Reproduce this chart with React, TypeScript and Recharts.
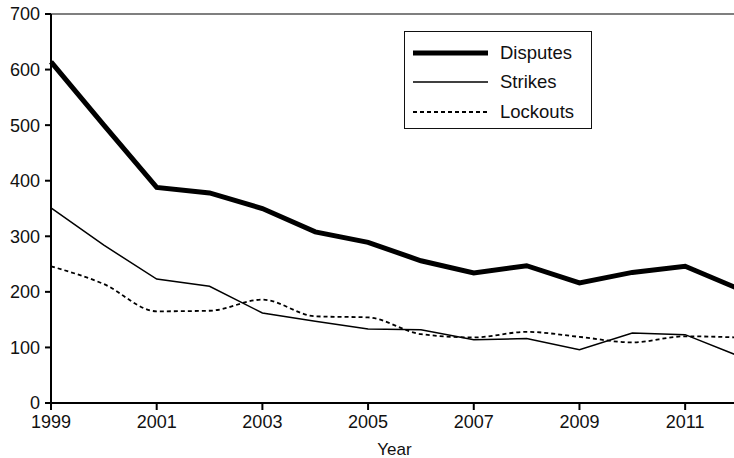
import { Line, LineChart, ReferenceLine, XAxis, YAxis } from "recharts";

const years = [1999, 2000, 2001, 2002, 2003, 2004, 2005, 2006, 2007, 2008, 2009, 2010, 2011, 2012];
const disputes = [614, 500, 388, 378, 350, 308, 289, 256, 234, 247, 216, 235, 246, 206];
const strikes = [351, 284, 223, 210, 162, 147, 133, 132, 114, 116, 96, 126, 123, 85];
const lockouts = [246, 214, 165, 166, 186, 156, 154, 124, 118, 128, 119, 109, 120, 118];

const xTicks = [1999, 2001, 2003, 2005, 2007, 2009, 2011];
const yTicks = [0, 100, 200, 300, 400, 500, 600, 700];

const FONT = "'Liberation Sans', Arial, sans-serif";

const data = years.map((year, i) => ({
  year,
  disputes: disputes[i],
  strikes: strikes[i],
  lockouts: lockouts[i],
}));

const legendItems = [
  { name: "Disputes", width: 5, dash: undefined },
  { name: "Strikes", width: 1.5, dash: undefined },
  { name: "Lockouts", width: 1.8, dash: "4 3" },
];

// legend drawn as an overlay so it doesn't push the plot area down
function LegendBox() {
  return (
    <div
      style={{
        position: "absolute",
        left: 404,
        top: 31,
        border: "1.5px solid #111",
        background: "#fff",
        width: 188,
        height: 98,
        boxSizing: "border-box",
        padding: "6px 0 0 8px",
        fontFamily: FONT,
        fontSize: 18.5,
        color: "#111",
      }}
    >
      {legendItems.map((item) => (
        <div key={item.name} style={{ display: "flex", alignItems: "center", height: 29.5 }}>
          <svg width={75} height={10} style={{ marginRight: 12 }}>
            <line
              x1={0}
              y1={5}
              x2={75}
              y2={5}
              stroke="#000"
              strokeWidth={item.width}
              strokeDasharray={item.dash}
            />
          </svg>
          <span>{item.name}</span>
        </div>
      ))}
    </div>
  );
}

export default function App() {
  return (
    <div style={{ position: "absolute", left: 0, top: 0, width: 734, height: 458, overflow: "hidden", background: "#fff" }}>
      <LineChart width={740} height={458} data={data} margin={{ top: 14, right: 2, bottom: 0, left: 0 }}>
        <XAxis
          dataKey="year"
          type="number"
          domain={[1999, 2012]}
          ticks={xTicks}
          tickSize={7}
          tickMargin={5}
          height={55}
          stroke="#000"
          strokeWidth={2}
          tick={{ fill: "#111", fontSize: 18, fontFamily: FONT }}
          label={{ value: "Year", position: "insideBottom", offset: 3, fill: "#111", fontSize: 17, fontFamily: FONT }}
        />
        <YAxis
          type="number"
          domain={[0, 700]}
          ticks={yTicks}
          width={51}
          tickSize={6}
          tickMargin={5}
          stroke="#000"
          strokeWidth={2}
          tick={{ fill: "#111", fontSize: 18, fontFamily: FONT }}
        />
        <ReferenceLine y={700} stroke="#555" strokeWidth={1.5} />
        <Line
          dataKey="lockouts"
          type="monotone"
          stroke="#000"
          strokeWidth={1.8}
          strokeDasharray="4 3"
          dot={false}
          isAnimationActive={false}
        />
        <Line
          dataKey="strikes"
          type="linear"
          stroke="#000"
          strokeWidth={1.5}
          dot={false}
          isAnimationActive={false}
        />
        <Line
          dataKey="disputes"
          type="linear"
          stroke="#000"
          strokeWidth={5}
          dot={false}
          isAnimationActive={false}
        />
      </LineChart>
      <LegendBox />
    </div>
  );
}
